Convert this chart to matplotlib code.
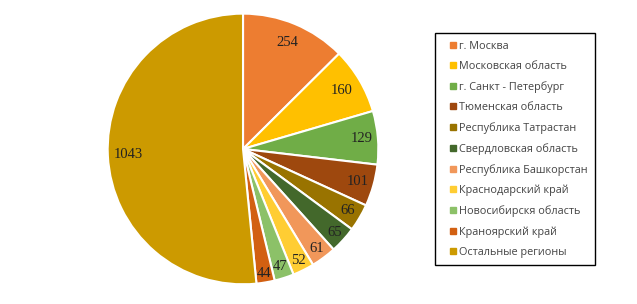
import numpy as np
import matplotlib.pyplot as plt
from matplotlib.lines import Line2D

regions = ['г. Москва', 'Московская область', 'г. Санкт - Петербург',
           'Тюменская область', 'Республика Татрастан', 'Свердловская область',
           'Республика Башкорстан', 'Краснодарский край', 'Новосибирскя область',
           'Краноярский край', 'Остальные регионы']
values = [254, 160, 129, 101, 66, 65, 61, 52, 47, 44, 1043]
colors = ['#ED7D31', '#FFC000', '#70AD47', '#9E480E', '#997300', '#43682B',
          '#F1975A', '#FFCD33', '#8CC168', '#D26012', '#CC9A00']
# label distance from centre (fraction of radius), like Excel's "inside end"
label_r = [0.85, 0.85, 0.88, 0.88, 0.90, 0.915, 0.915, 0.92, 0.91, 0.93, 0.85]

fig = plt.figure(figsize=(6.37, 3.04), dpi=100)
ax = fig.add_axes([0.168, 0.0625, 0.427, 0.895])
wedges, texts = ax.pie(values, colors=colors, startangle=90, counterclock=False,
                       labels=[str(v) for v in values],
                       wedgeprops=dict(edgecolor='white', linewidth=1.5),
                       textprops=dict(family='Liberation Serif', fontsize=10.5, color='#222222'))
for w, t, r in zip(wedges, texts, label_r):
    a = np.deg2rad((w.theta1 + w.theta2) / 2)
    t.set_position((r * np.cos(a), r * np.sin(a)))
    t.set_horizontalalignment('center')
    t.set_verticalalignment('center')
ax.set_xlim(-1.005, 1.005)
ax.set_ylim(-1.005, 1.005)
ax.set_aspect('equal')

handles = [Line2D([], [], marker='s', linestyle='none', markersize=4,
                  markerfacecolor=c, markeredgecolor=c) for c in colors]
leg = fig.legend(handles, regions, loc='upper left', bbox_to_anchor=(0.683, 0.891),
                 borderaxespad=0, prop=dict(family='Open Sans', size=7.8),
                 labelspacing=0.84, handlelength=1.9, handletextpad=-0.39, borderpad=0.7,
                 fancybox=False, edgecolor='black', framealpha=1)
leg.get_frame().set_linewidth(1.0)
for t in leg.get_texts():
    t.set_color('#444444')

fig.savefig('out.png', dpi=100)
